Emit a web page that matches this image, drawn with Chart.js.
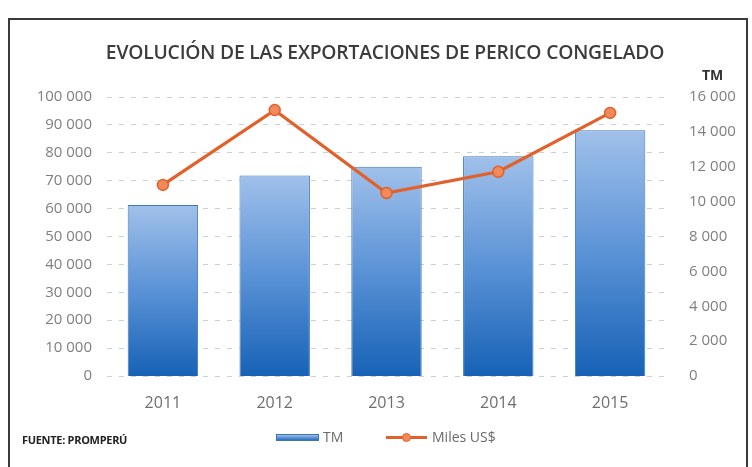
<!DOCTYPE html>
<html>
<head>
<meta charset="utf-8">
<script src="https://cdn.jsdelivr.net/npm/chart.js@4.4.1/dist/chart.umd.min.js"></script>
<style>
  html, body { margin:0; padding:0; background:#fff; }
  #wrap { position:relative; width:752px; height:467px; overflow:hidden; background:#fff; font-family:"Open Sans", sans-serif; }
  #c { position:absolute; left:0; top:0; }
  #frame { position:absolute; left:8px; top:18px; width:740px; height:470px; border:2px solid #3a3a3a; box-sizing:border-box; pointer-events:none; }
  #title { position:absolute; left:0; top:38px; width:770px; text-align:center; font-weight:600; font-size:19.3px; color:#3c3c3c; letter-spacing:-0.2px; }
  #tm { position:absolute; left:702px; top:65px; font-weight:700; font-size:14px; color:#333; }
  #src { position:absolute; left:22px; top:432px; font-weight:700; font-size:11px; color:#222; letter-spacing:-0.3px; }
  .lg { position:absolute; top:427px; font-size:14px; color:#6a6a6a; }
  #lgbar { position:absolute; left:276px; top:434px; width:43px; height:7px; background:linear-gradient(#9dbde8,#2a6fc0); border:1px solid #3c74b8; box-sizing:border-box; }
  #lgline { position:absolute; left:386px; top:436px; width:41px; height:3px; background:#e2602a; }
  #lgdot { position:absolute; left:402px; top:433px; width:9px; height:9px; border-radius:50%; background:#f08a5a; border:1px solid #e2602a; box-sizing:border-box; }
</style>
</head>
<body>
<div id="wrap">
  <canvas id="c" width="752" height="467"></canvas>
  <div id="frame"></div>
  <div id="title">EVOLUCIÓN DE LAS EXPORTACIONES DE PERICO CONGELADO</div>
  <div id="tm">TM</div>
  <div id="src">FUENTE: PROMPERÚ</div>
  <div id="lgbar"></div><div class="lg" style="left:323px">TM</div>
  <div id="lgline"></div><div id="lgdot"></div><div class="lg" style="left:432px">Miles US$</div>
</div>
<script>
const years = ['2011', '2012', '2013', '2014', '2015'];
const tmValues = [9800, 11500, 12000, 12600, 14100];          // bars, right axis (TM)
const milesUSD = [68500, 95300, 65600, 73200, 94300];         // line, left axis (Miles US$)
const leftTicks = { min: 0, max: 100000, step: 10000 };
const rightTicks = { min: 0, max: 16000, step: 2000 };

const fmt = v => String(v).replace(/\B(?=(\d{3})+(?!\d))/g, ' ');

function barGradient(ctx) {
  const chart = ctx.chart;
  const sc = chart.scales && chart.scales.y1;
  if (!sc || ctx.type !== 'data' || !chart.chartArea) return '#4f86cc';
  const top = sc.getPixelForValue(ctx.raw);
  const bottom = sc.getPixelForValue(0);
  const g = chart.ctx.createLinearGradient(0, top, 0, bottom);
  g.addColorStop(0, '#a0c0ea');
  g.addColorStop(0.5, '#5a92d6');
  g.addColorStop(1, '#1762b6');
  return g;
}

new Chart(document.getElementById('c'), {
  data: {
    labels: years,
    datasets: [
      {
        type: 'line', label: 'Miles US$', data: milesUSD, yAxisID: 'y', order: 1,
        borderColor: '#e2602a', borderWidth: 3.2, tension: 0,
        pointRadius: 5.5, pointBackgroundColor: '#f08a5a', pointBorderColor: '#e2602a', pointBorderWidth: 1.5
      },
      {
        type: 'bar', label: 'TM', data: tmValues, yAxisID: 'y1', order: 2,
        backgroundColor: barGradient, borderColor: '#3f77bb', borderWidth: 1,
        categoryPercentage: 1, barPercentage: 0.63
      }
    ]
  },
  options: {
    responsive: false, animation: false, devicePixelRatio: 1,
    layout: { padding: { top: 97, bottom: 0, left: 0, right: 0 } },
    plugins: { legend: { display: false }, title: { display: false }, tooltip: { enabled: false } },
    scales: {
      x: {
        offset: true,
        grid: { display: false, drawTicks: false },
        border: { display: false },
        ticks: { color: '#6e6e6e', font: { family: 'Open Sans', size: 16 }, padding: 18 },
        afterFit: s => { s.height = 91; }
      },
      y: {
        position: 'left', min: leftTicks.min, max: leftTicks.max,
        ticks: { stepSize: leftTicks.step, color: '#7f7f7f', font: { family: 'Open Sans', size: 15 }, padding: 15, callback: v => fmt(v) },
        grid: { color: '#cfcfcf', lineWidth: 1, drawTicks: false, borderDash: [5, 7] },
        border: { display: false, dash: [5, 7] },
        afterFit: s => { s.width = 107; }
      },
      y1: {
        position: 'right', min: rightTicks.min, max: rightTicks.max,
        ticks: { stepSize: rightTicks.step, color: '#7f7f7f', font: { family: 'Open Sans', size: 15 }, padding: 23, callback: v => fmt(v) },
        grid: { display: false, drawTicks: false },
        border: { display: false },
        afterFit: s => { s.width = 86; }
      }
    }
  }
});
</script>
</body>
</html>
